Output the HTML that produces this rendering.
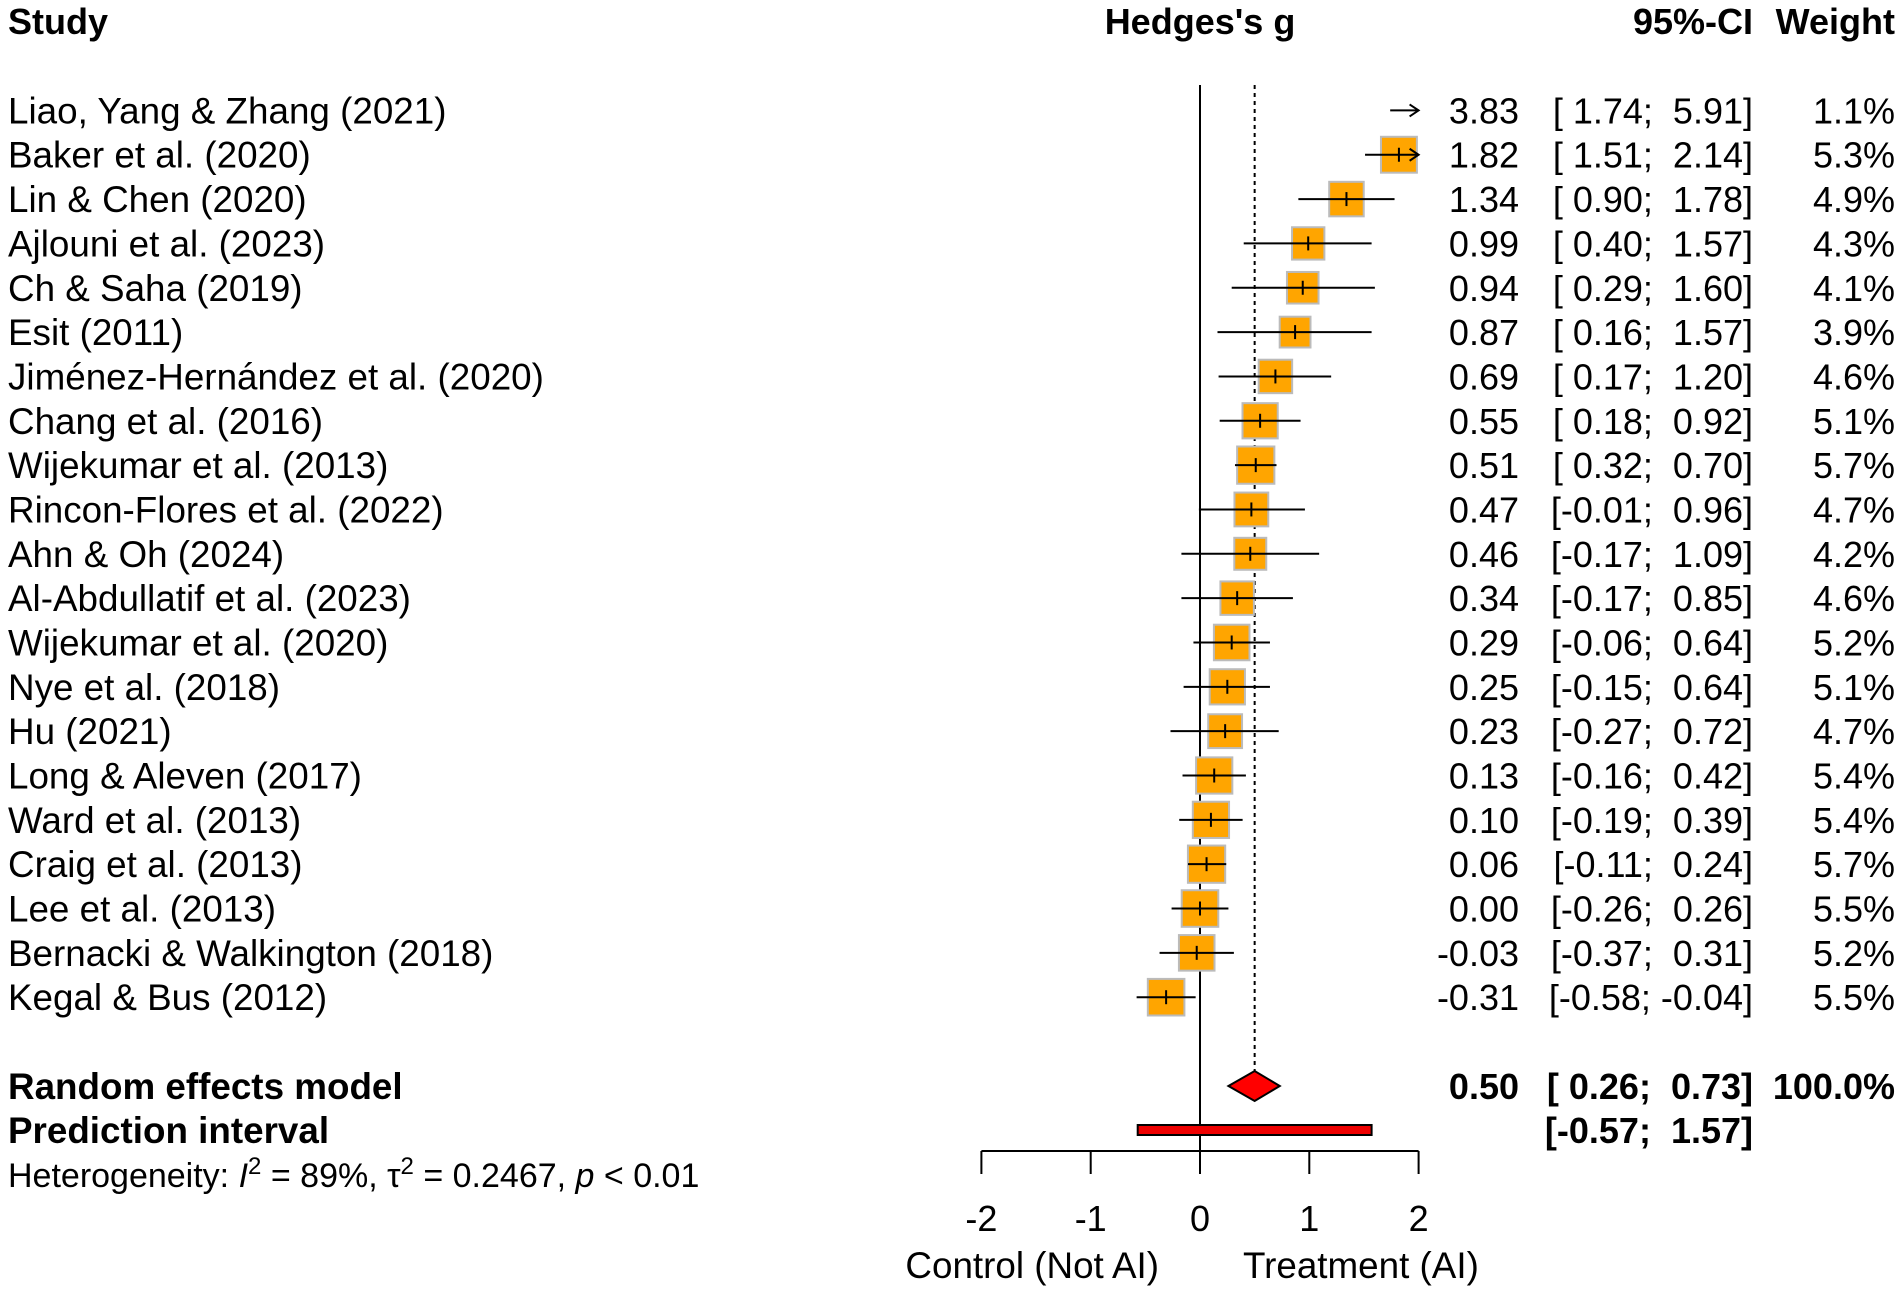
<!DOCTYPE html>
<html><head><meta charset="utf-8"><style>
html,body{margin:0;padding:0;background:#fff}
svg{display:block}
text{font-family:"Liberation Sans",Arial,sans-serif;fill:#000}
</style></head><body>
<svg id="s" width="1902" height="1292" xmlns="http://www.w3.org/2000/svg"></svg>
<script>
const d=[
["Liao, Yang & Zhang (2021)",3.83,1.74,5.91,1.1,"3.83","[ 1.74;  5.91]","1.1%"],
["Baker et al. (2020)",1.82,1.51,2.14,5.3,"1.82","[ 1.51;  2.14]","5.3%"],
["Lin & Chen (2020)",1.34,0.90,1.78,4.9,"1.34","[ 0.90;  1.78]","4.9%"],
["Ajlouni et al. (2023)",0.99,0.40,1.57,4.3,"0.99","[ 0.40;  1.57]","4.3%"],
["Ch & Saha (2019)",0.94,0.29,1.60,4.1,"0.94","[ 0.29;  1.60]","4.1%"],
["Esit (2011)",0.87,0.16,1.57,3.9,"0.87","[ 0.16;  1.57]","3.9%"],
["Jiménez-Hernández et al. (2020)",0.69,0.17,1.20,4.6,"0.69","[ 0.17;  1.20]","4.6%"],
["Chang et al. (2016)",0.55,0.18,0.92,5.1,"0.55","[ 0.18;  0.92]","5.1%"],
["Wijekumar et al. (2013)",0.51,0.32,0.70,5.7,"0.51","[ 0.32;  0.70]","5.7%"],
["Rincon-Flores et al. (2022)",0.47,-0.01,0.96,4.7,"0.47","[-0.01;  0.96]","4.7%"],
["Ahn & Oh (2024)",0.46,-0.17,1.09,4.2,"0.46","[-0.17;  1.09]","4.2%"],
["Al-Abdullatif et al. (2023)",0.34,-0.17,0.85,4.6,"0.34","[-0.17;  0.85]","4.6%"],
["Wijekumar et al. (2020)",0.29,-0.06,0.64,5.2,"0.29","[-0.06;  0.64]","5.2%"],
["Nye et al. (2018)",0.25,-0.15,0.64,5.1,"0.25","[-0.15;  0.64]","5.1%"],
["Hu (2021)",0.23,-0.27,0.72,4.7,"0.23","[-0.27;  0.72]","4.7%"],
["Long & Aleven (2017)",0.13,-0.16,0.42,5.4,"0.13","[-0.16;  0.42]","5.4%"],
["Ward et al. (2013)",0.10,-0.19,0.39,5.4,"0.10","[-0.19;  0.39]","5.4%"],
["Craig et al. (2013)",0.06,-0.11,0.24,5.7,"0.06","[-0.11;  0.24]","5.7%"],
["Lee et al. (2013)",0.00,-0.26,0.26,5.5,"0.00","[-0.26;  0.26]","5.5%"],
["Bernacki & Walkington (2018)",-0.03,-0.37,0.31,5.2,"-0.03","[-0.37;  0.31]","5.2%"],
["Kegal & Bus (2012)",-0.31,-0.58,-0.04,5.5,"-0.31","[-0.58; -0.04]","5.5%"]];
const X=v=>1200+v*109.3;
let h='';
const fs=36, fn=36.8;
h+=`<text x="8" y="34" font-size="${fs}" font-weight="bold">Study</text>`;
h+=`<text x="1200" y="34" font-size="${fs}" font-weight="bold" text-anchor="middle">Hedges's g</text>`;
h+=`<text x="1753" y="34" font-size="${fs}" font-weight="bold" text-anchor="end">95%-CI</text>`;
h+=`<text x="1895" y="34" font-size="${fs}" font-weight="bold" text-anchor="end">Weight</text>`;
h+=`<line x1="1200" y1="85" x2="1200" y2="1151" stroke="#000" stroke-width="2"/>`;
h+=`<line x1="${X(0.5)}" y1="85" x2="${X(0.5)}" y2="1072" stroke="#000" stroke-width="2" stroke-dasharray="4,4"/>`;
d.forEach((r,i)=>{
 const y=110.4+i*44.34;
 h+=`<text x="8" y="${y+13}" font-size="${fn}" xml:space="preserve">${r[0].replace('&','&amp;')}</text>`;
 h+=`<text x="1519" y="${y+13}" font-size="${fs}" text-anchor="end">${r[5]}</text>`;
 h+=`<text x="1753" y="${y+13}" font-size="${fs}" text-anchor="end" xml:space="preserve">${r[6]}</text>`;
 h+=`<text x="1895" y="${y+13}" font-size="${fs}" text-anchor="end">${r[7]}</text>`;
 const lo=Math.max(r[2],-2.2), hi=Math.min(r[3],2);
 const s=15.6*Math.sqrt(r[4]);
 if(r[1]<=2){h+=`<rect x="${X(r[1])-s/2}" y="${y-s/2}" width="${s}" height="${s}" fill="#FFA500" stroke="#bbb" stroke-width="2"/>`;}
 h+=`<line x1="${X(lo)}" y1="${y}" x2="${X(hi)}" y2="${y}" stroke="#000" stroke-width="2"/>`;
 if(r[3]>2){h+=`<polyline points="${X(2)-9},${y-6} ${X(2)},${y} ${X(2)-9},${y+6}" fill="none" stroke="#000" stroke-width="2"/>`;}
 if(r[1]<=2){h+=`<line x1="${X(r[1])}" y1="${y-7}" x2="${X(r[1])}" y2="${y+7}" stroke="#000" stroke-width="2"/>`;}
});
const yr=1086, yp=1130;
h+=`<text x="8" y="${yr+13}" font-size="${fn}" font-weight="bold">Random effects model</text>`;
h+=`<text x="8" y="${yp+13}" font-size="${fn}" font-weight="bold">Prediction interval</text>`;
h+=`<text x="1519" y="${yr+13}" font-size="${fs}" font-weight="bold" text-anchor="end">0.50</text>`;
h+=`<text x="1753" y="${yr+13}" font-size="${fs}" font-weight="bold" text-anchor="end" xml:space="preserve">[ 0.26;  0.73]</text>`;
h+=`<text x="1895" y="${yr+13}" font-size="${fs}" font-weight="bold" text-anchor="end">100.0%</text>`;
h+=`<text x="1753" y="${yp+13}" font-size="${fs}" font-weight="bold" text-anchor="end" xml:space="preserve">[-0.57;  1.57]</text>`;
h+=`<polygon points="${X(0.26)},${yr} ${X(0.5)},${yr-15} ${X(0.73)},${yr} ${X(0.5)},${yr+15}" fill="#f00" stroke="#000" stroke-width="2"/>`;
h+=`<rect x="${X(-0.57)}" y="${yp-5}" width="${X(1.57)-X(-0.57)}" height="10" fill="#e00" stroke="#000" stroke-width="2"/>`;
h+=`<text x="8" y="1187" font-size="34">Heterogeneity: <tspan font-style="italic">I</tspan><tspan dy="-13" font-size="24">2</tspan><tspan dy="13"> = 89%, τ</tspan><tspan dy="-13" font-size="24">2</tspan><tspan dy="13"> = 0.2467, </tspan><tspan font-style="italic">p</tspan> &lt; 0.01</text>`;
h+=`<line x1="${X(-2)}" y1="1151" x2="${X(2)}" y2="1151" stroke="#000" stroke-width="2"/>`;
[-2,-1,0,1,2].forEach(v=>{
 h+=`<line x1="${X(v)}" y1="1151" x2="${X(v)}" y2="1174" stroke="#000" stroke-width="2"/>`;
 h+=`<text x="${X(v)}" y="1231" font-size="${fs}" text-anchor="middle">${v}</text>`;
});
h+=`<text x="1159" y="1278" font-size="${fn}" text-anchor="end">Control (Not AI)</text>`;
h+=`<text x="1243" y="1278" font-size="${fn}">Treatment (AI)</text>`;
document.getElementById('s').innerHTML=h;
</script>
</body></html>
